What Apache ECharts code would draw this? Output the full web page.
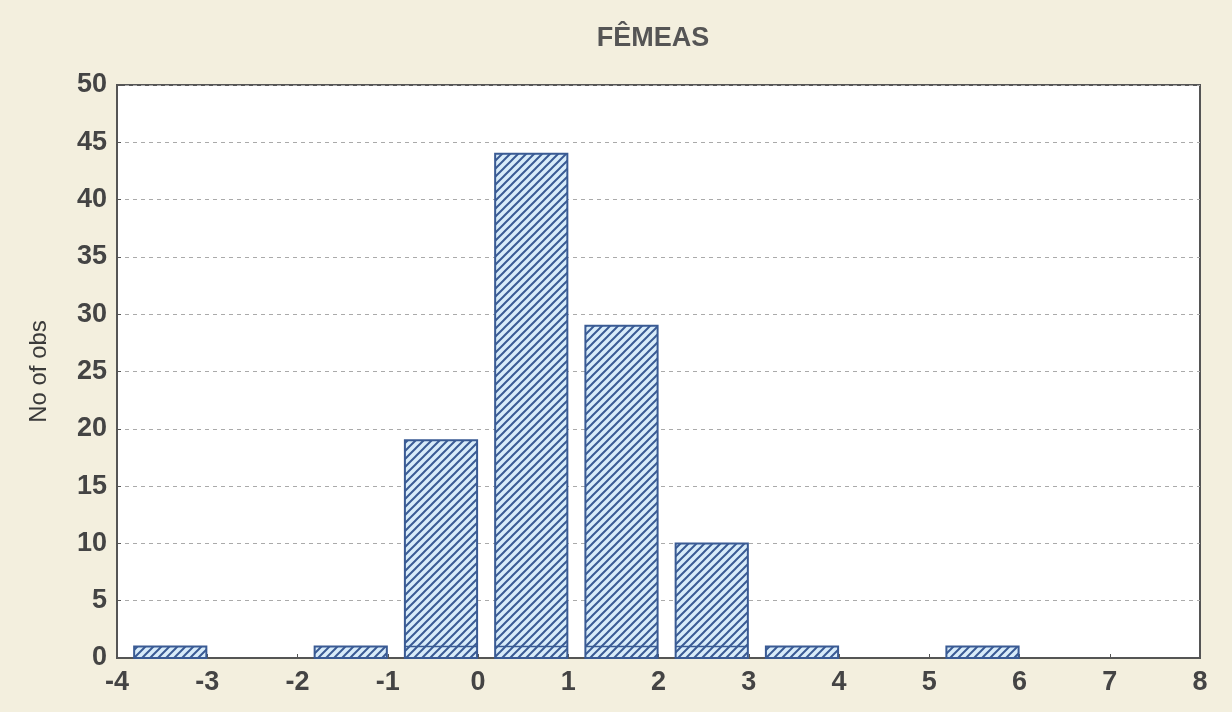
<!DOCTYPE html>
<html><head><meta charset="utf-8">
<script src="https://cdn.jsdelivr.net/npm/echarts@6/dist/echarts.min.js"></script>
<style>html,body{margin:0;padding:0;background:#f3efde;}#c{width:1232px;height:712px;}</style>
</head><body><div id="c"></div>
<script>
const title = 'FÊMEAS';
const yName = 'No of obs';
const binStart = [-4,-3,-2,-1,0,1,2,3,4,5,6,7];
const binEnd   = [-3,-2,-1,0,1,2,3,4,5,6,7,8];
const counts   = [1,0,1,19,44,29,10,1,0,1,0,0];

function makeHatch(){
  const c = document.createElement('canvas');
  c.width = 8; c.height = 8;
  const g = c.getContext('2d');
  g.fillStyle = '#d8ecfa'; g.fillRect(0,0,8,8);
  g.strokeStyle = '#3a5b94'; g.lineWidth = 2;
  g.beginPath();
  g.moveTo(-1,9); g.lineTo(9,-1);
  g.moveTo(-5,5); g.lineTo(5,-5);
  g.moveTo(3,13); g.lineTo(13,3);
  g.stroke();
  return c;
}
const hatch = {image: makeHatch(), repeat: 'repeat'};

const data = binStart.map((s,i)=>[s, binEnd[i], counts[i]]);
const chart = echarts.init(document.getElementById('c'), null, {renderer:'canvas'});
chart.setOption({
  backgroundColor: '#f3efde',
  animation: false,
  title: {text: title, left: 648, top: 20, textAlign: 'center',
    textStyle: {fontFamily: 'Liberation Sans', fontSize: 27, fontWeight: 'bold', color: '#555'}},
  grid: {left: 117, right: 32, top: 85, bottom: 54, show: true, backgroundColor: '#ffffff', borderColor: '#555', borderWidth: 2},
  xAxis: {type: 'value', min: -4, max: 8, interval: 1,
    axisLine: {show: true, onZero: false, lineStyle: {color: '#555', width: 2}},
    axisTick: {show: true, inside: true, length: 4, lineStyle: {color: '#555'}},
    splitLine: {show: false},
    axisLabel: {margin: 11, fontFamily: 'Liberation Sans', fontSize: 27, fontWeight: 'bold', color: '#444'}},
  yAxis: {type: 'value', min: 0, max: 50, interval: 5, name: yName, nameLocation: 'middle', nameGap: 66,
    nameTextStyle: {fontFamily: 'Liberation Sans', fontSize: 24, color: '#3a3a3a'},
    axisLine: {show: true, onZero: false, lineStyle: {color: '#555', width: 2}},
    axisTick: {show: true, inside: true, length: 4, lineStyle: {color: '#555'}},
    splitLine: {show: true, lineStyle: {color: '#aaa', type: [4,4], width: 1}},
    axisLabel: {margin: 10, fontFamily: 'Liberation Sans', fontSize: 27, fontWeight: 'bold', color: '#444'}},
  series: [{
    type: 'custom',
    data: data,
    encode: {x: [0,1], y: 2},
    renderItem: function(params, api){
      const s = api.value(0), e = api.value(1), v = api.value(2);
      if (v <= 0) return null;
      const p0 = api.coord([s + 0.19, v]);
      const p1 = api.coord([e - 0.01, 0]);
      const children = [{type:'rect', shape:{x:p0[0], y:p0[1], width:p1[0]-p0[0], height:p1[1]-p0[1]},
        style:{fill: hatch, stroke:'#3a5b94', lineWidth: 2}}];
      if (v > 1) {
        const q = api.coord([s + 0.19, 1]);
        children.push({type:'line', shape:{x1:p0[0], y1:q[1], x2:p1[0], y2:q[1]}, style:{stroke:'#3a5b94', lineWidth:1.5}});
      }
      return {type:'group', children: children};
    }
  }]
});
</script></body></html>
